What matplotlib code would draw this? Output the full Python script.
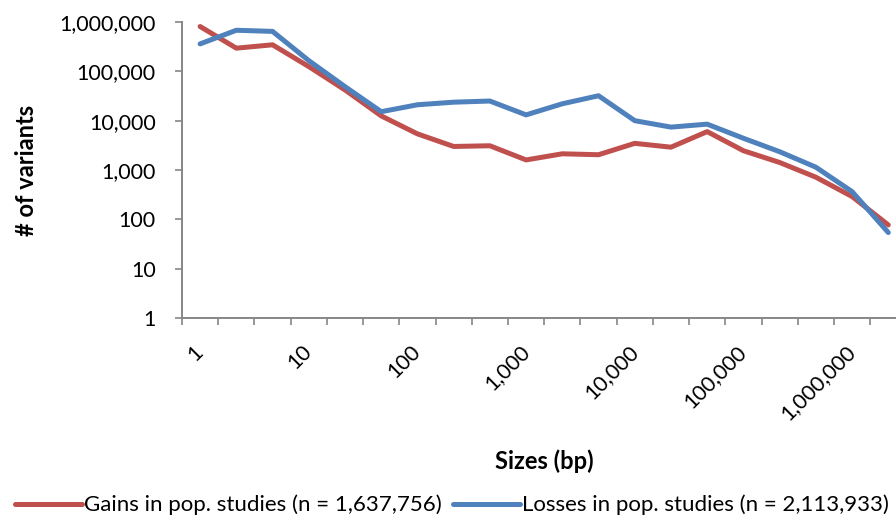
import numpy as np
import matplotlib
matplotlib.use("Agg")
import matplotlib.pyplot as plt
from matplotlib.ticker import FuncFormatter, FixedLocator, NullFormatter

plt.rcParams['font.family'] = ['Lato', 'DejaVu Sans']

# size bins (log-spaced, 3 per decade), labelled every decade
bin_labels = ["1", "10", "100", "1,000", "10,000", "100,000", "1,000,000"]
n_bins = 20

gains = [810000, 295000, 345000, 125000, 42000, 12500, 5400, 3000, 3100, 1600,
         2130, 2040, 3470, 2900, 6000, 2460, 1420, 715, 290, 77]
losses = [360000, 680000, 645000, 165000, 49000, 15200, 21000, 23700, 25000, 13100,
          22000, 32000, 10000, 7400, 8500, 4400, 2350, 1140, 365, 54]

gains_label = "Gains in pop. studies (n = 1,637,756)"
losses_label = "Losses in pop. studies (n = 2,113,933)"

red = "#C0504D"
blue = "#4F81BD"
axis_grey = "#868686"

fig = plt.figure(figsize=(8.96, 5.23), dpi=100)
ax = fig.add_axes([182 / 896, 1 - 318 / 523, (906.4 - 182) / 896, (318 - 22) / 523])

x = np.arange(n_bins)
ax.plot(x, gains, color=red, lw=3.6, solid_joinstyle="round", solid_capstyle="round", label=gains_label)
ax.plot(x, losses, color=blue, lw=3.6, solid_joinstyle="round", solid_capstyle="round", label=losses_label)

ax.set_yscale("log")
ax.set_ylim(1, 1e6)
ax.set_xlim(-0.5, n_bins - 0.5)

ax.yaxis.set_major_locator(FixedLocator([10 ** k for k in range(7)]))
ax.yaxis.set_minor_locator(FixedLocator([]))
ax.yaxis.set_major_formatter(FuncFormatter(lambda v, p: f"{int(round(v)):,}"))

# tick marks on bin boundaries, labels on every third bin centre
ax.xaxis.set_major_locator(FixedLocator(np.arange(n_bins + 1) - 0.5))
ax.xaxis.set_major_formatter(NullFormatter())
ax.xaxis.set_minor_locator(FixedLocator(np.arange(0, n_bins, 3)))
ax.set_xticklabels(bin_labels, minor=True, rotation=45, ha="right", va="center",
                   rotation_mode="anchor")
ax.tick_params(axis="x", which="minor", length=0, pad=22, labelsize=15.5)
ax.tick_params(axis="x", which="major", length=5, width=1.2, color=axis_grey, direction="out")
ax.tick_params(axis="y", which="major", length=5, width=1.2, color=axis_grey,
               direction="out", labelsize=15.5, pad=14)

for side in ("top", "right"):
    ax.spines[side].set_visible(False)
for side in ("left", "bottom"):
    ax.spines[side].set_color(axis_grey)
    ax.spines[side].set_linewidth(1.4)

fig.text(27 / 896, 1 - 170 / 523, "# of variants", fontsize=17, fontweight="bold",
         rotation=90, ha="center", va="center")
fig.text(544 / 896, 1 - 461 / 523, "Sizes (bp)", fontsize=17, fontweight="bold",
         ha="center", va="center")

fig.legend(loc="center", bbox_to_anchor=(452 / 896, 1 - 505 / 523), ncol=2, frameon=False,
           fontsize=16, handlelength=3.0, handletextpad=0.1, columnspacing=0.5)

fig.savefig("out.png", dpi=100)
